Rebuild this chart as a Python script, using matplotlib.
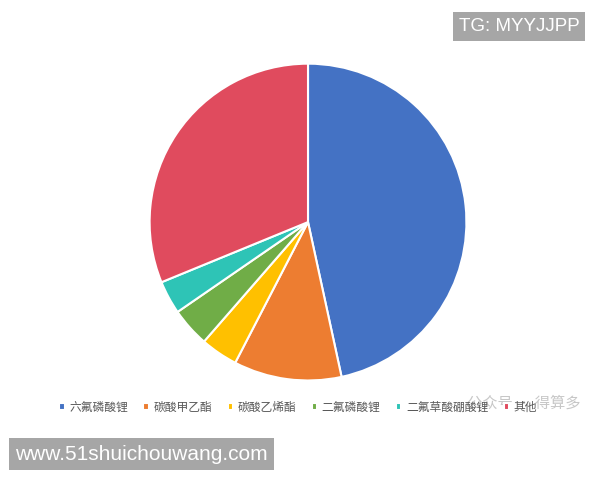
import matplotlib.pyplot as plt

plt.rcParams['font.family'] = ['Noto Sans CJK SC', 'DejaVu Sans']

# data (share of cost, %)
labels = ['六氟磷酸锂', '碳酸甲乙酯', '碳酸乙烯酯', '二氟磷酸锂', '二氟草酸硼酸锂', '其他']
values = [46.6, 11.0, 3.8, 4.0, 3.4, 31.2]
colors = ['#4472C4', '#ED7D31', '#FFC000', '#70AD47', '#2EC4B6', '#E04B5E']

fig = plt.figure(figsize=(6, 4.8), dpi=100)
ax = fig.add_axes([0.2467, 0.204, 0.5333, 0.6667])
wedges, _ = ax.pie(values, colors=colors, startangle=90, counterclock=False,
                   wedgeprops=dict(edgecolor='white', linewidth=1.5))
ax.set_xlim(-1.01, 1.01)
ax.set_ylim(-1.01, 1.01)
ax.set_aspect('equal')

leg = fig.legend(wedges, labels, loc='center', bbox_to_anchor=(0.497, 0.152), ncol=6,
                 frameon=False, fontsize=8.5, handlelength=0.45, handleheight=0.45,
                 handletextpad=0.4, columnspacing=1.3, labelcolor='#595959')

# watermark overlays
fig.text(0.968, 0.161, '公众号 · 得算多', ha='right', va='center', fontsize=11,
         color='#9a9a9a', alpha=0.55)
fig.text(0.765, 0.945, 'TG: MYYJJPP', ha='left', va='center', fontsize=13.5,
         color='white', family='Liberation Sans',
         bbox=dict(boxstyle='square,pad=0.3', facecolor='#A6A6A6', edgecolor='none'))
fig.text(0.025, 0.054, 'www.51shuichouwang.com', ha='left', va='center', fontsize=15,
         color='white', family='Liberation Sans',
         bbox=dict(boxstyle='square,pad=0.3', facecolor='#A6A6A6', edgecolor='none'))

fig.savefig('out.png', dpi=100)
